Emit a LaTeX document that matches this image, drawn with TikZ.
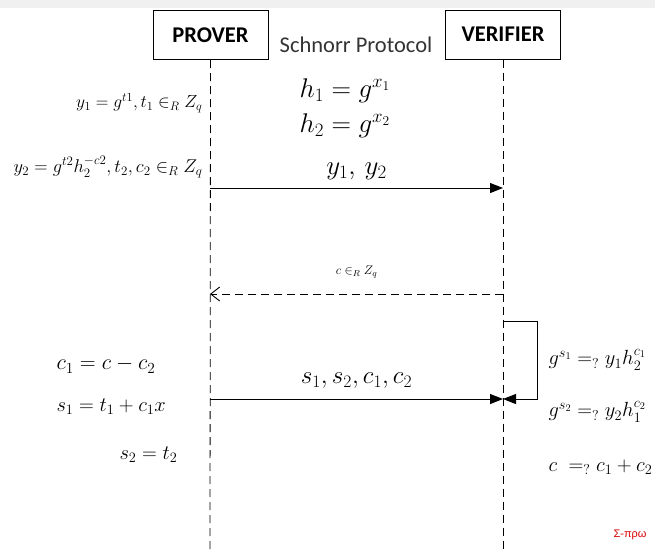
\RequirePackage{fix-cm}
\documentclass[tikz,border=0pt]{standalone}
\usepackage{amsmath,amssymb}
\usepackage{fontspec}
\setmainfont{Carlito}
\newfontfamily\greekfont{Liberation Sans}
\usetikzlibrary{arrows.meta,positioning,calc}

\begin{document}
\begin{tikzpicture}[x=1pt, y=-1pt,
    party/.style={draw, line width=1pt, minimum width=115pt, minimum height=49pt, font=\fontsize{22.5}{26}\selectfont\bfseries},
    life/.style={line width=0.8pt, dash pattern=on 8pt off 5pt},
    arr/.style={-{Triangle[length=13pt, width=10pt]}, line width=1pt},
    back/.style={-{Straight Barb[length=9pt, width=14pt]}, line width=0.9pt, dash pattern=on 8pt off 5pt},
    big/.style={font=\fontsize{27}{31}\selectfont},
    mid/.style={font=\fontsize{20.5}{24}\selectfont},
    lft/.style={font=\fontsize{17.5}{21}\selectfont},
    sml/.style={font=\fontsize{12.5}{15}\selectfont}
]
\useasboundingbox (0,0) rectangle (655,550);
\fill[black!6] (0,0) rectangle (655,8);

\node[party] (prover) at (210.5,35) {PROVER};
\node[party] (verifier) at (503,34.5) {VERIFIER};
\node[font=\fontsize{22.5}{26}\selectfont, text=black!80] (title) at (356,45) {Schnorr Protocol};

\coordinate (pend) at (210,550);
\coordinate (vend) at (503,550);
\draw[life] (prover.south) -- (pend);
\draw[life] (verifier.south) -- (vend);

% commitment
\node[big] (hone) at (345,91) {$h_1 = g^{x_1}$};
\node[big] (htwo) at (345,126) {$h_2 = g^{x_2}$};
\node[lft, anchor=east] (yone) at (206,103) {$y_1 = g^{t1}, t_1 \in_R Z_q$};
\node[font=\fontsize{18.5}{22}\selectfont, anchor=east] (ytwo) at (206,167) {$y_2 = g^{t2} h_2^{-c2}, t_2, c_2 \in_R Z_q$};
\coordinate (p1) at (210,188);
\coordinate (v1) at (503,188);
\draw[arr] (p1) -- node[big, above=4pt] {$y_1 ,\, y_2$} (v1);

% challenge
\coordinate (p2) at (210,294);
\coordinate (v2) at (503,294);
\draw[back] (v2) -- node[sml, above=12pt] {$c \in_R Z_q$} (p2);

% response
\node[font=\fontsize{22}{26}\selectfont, anchor=west] (cone) at (53,365) {$c_1 = c - c_2$};
\node[mid, anchor=west] (sone) at (53,407) {$s_1 = t_1 + c_1 x$};
\node[mid, anchor=west] (stwo) at (116,455) {$s_2 = t_2$};
\coordinate (p3) at (210,399);
\coordinate (v3) at (503,399);
\draw[arr] (p3) -- node[font=\fontsize{25}{29}\selectfont, above=7pt] {$s_1, s_2, c_1, c_2$} (v3);

% verification
\coordinate (v4) at (503,321);
\draw[arr] (v4) -- ++(34,0) |- (v3);
\node[mid, anchor=west] (chkone) at (545,360) {$g^{s_1} =_{?} y_1 h_2^{c_1}$};
\node[mid, anchor=west] (chktwo) at (545,412) {$g^{s_2} =_{?} y_2 h_1^{c_2}$};
\node[mid, anchor=west] (chkthree) at (545,467) {$c \;=_{?} c_1 + c_2$};

\node[font=\greekfont\fontsize{11}{13}\selectfont, text=red!85!black, anchor=west] (mark) at (610,535) {Σ-πρω};
\end{tikzpicture}
\end{document}
